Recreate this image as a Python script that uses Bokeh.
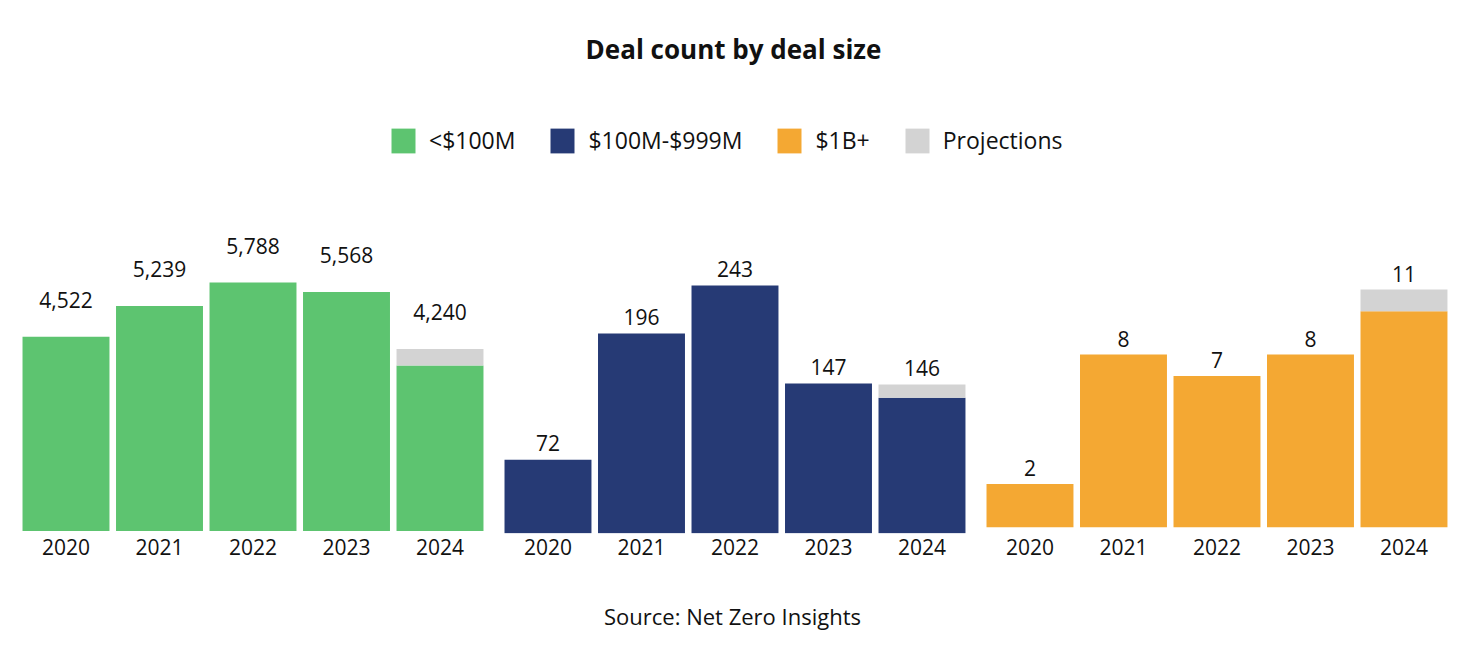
from bokeh.plotting import figure
from bokeh.models import Range1d, LinearAxis, FixedTicker, Legend, LegendItem, Label, ColumnDataSource
from bokeh.core.properties import value
from bokeh.embed import file_html
from bokeh.resources import INLINE

# ---------------- data ----------------
years = ["2020", "2021", "2022", "2023", "2024"]
series_names = ["<$100M", "$100M-$999M", "$1B+"]
projection_name = "Projections"

small_actual = [4522, 5239, 5788, 5568, 3855]
small_total = [4522, 5239, 5788, 5568, 4240]

mid_actual = [72, 196, 243, 147, 133]
mid_total = [72, 196, 243, 147, 146]

large_actual = [2, 8, 7, 8, 10]
large_total = [2, 8, 7, 8, 11]

title_text = "Deal count by deal size"
source_text = "Source: Net Zero Insights"

# ---------------- style ----------------
FONT = "Open Sans"
colors = ["#5DC470", "#263A75", "#F4A833"]
proj_color = "#D3D3D3"
text_color = "#111111"

W, H = 1454, 638
LEFT = 10
FRAME_W = W - LEFT
FRAME_H = 533
px_per_x = 93.5
x_start = -(65.5 - LEFT) / px_per_x
group_gap = 0.155
bar_w = 0.93

# per-panel vertical scale (px per unit) and baseline lift above frame bottom (px)
scales = [0.04293, 1.019, 21.6]
lifts = [2.5, 0.3, 6.3]
label_offsets = [-37, -16.5, -15.7]

def yrange(k, lift):
    start = -lift / k
    return Range1d(start, start + FRAME_H / k)

p = figure(width=W, height=H, output_backend="svg", toolbar_location=None,
           x_range=Range1d(x_start, x_start + FRAME_W / px_per_x),
           y_range=yrange(scales[0], lifts[0]),
           min_border_left=LEFT, min_border_right=0, min_border_top=0,
           min_border_bottom=H - FRAME_H,
           x_axis_type=None, y_axis_type=None)
p.outline_line_color = None
p.background_fill_color = "white"
p.border_fill_color = "white"
p.grid.visible = False

range_names = ["default", "mid", "large"]
p.extra_y_ranges = {"mid": yrange(scales[1], lifts[1]),
                    "large": yrange(scales[2], lifts[2])}

actuals = [small_actual, mid_actual, large_actual]
totals = [small_total, mid_total, large_total]

all_ticks = []
overrides = {}
main_renderers = []
proj_renderers = []
n = len(years)
for k in range(3):
    offset = k * (n + group_gap)
    xs = [round(offset + i, 4) for i in range(n)]
    for x, yr in zip(xs, years):
        all_ticks.append(x)
        overrides[x] = yr
    src = ColumnDataSource(dict(x=xs, actual=actuals[k], total=totals[k],
                                label=[f"{v:,}" for v in totals[k]]))
    r = p.vbar(x="x", width=bar_w, bottom=0, top="actual", source=src,
               fill_color=colors[k], line_color=None, y_range_name=range_names[k])
    rp = p.vbar(x="x", width=bar_w, bottom="actual", top="total", source=src,
                fill_color=proj_color, line_color=None, y_range_name=range_names[k])
    p.text(x="x", y="total", text="label", source=src, text_align="center",
           text_baseline="alphabetic", y_offset=label_offsets[k],
           text_font=value(FONT), text_font_size="21px", text_color=text_color,
           y_range_name=range_names[k])
    main_renderers.append(r)
    proj_renderers.append(rp)

ax = LinearAxis(ticker=FixedTicker(ticks=all_ticks), major_label_overrides=overrides)
ax.axis_line_color = None
ax.major_tick_line_color = None
ax.minor_tick_line_color = None
ax.major_tick_out = 0
ax.major_tick_in = 0
ax.major_label_standoff = 5
ax.major_label_text_font = FONT
ax.major_label_text_font_size = "21px"
ax.major_label_text_color = text_color
ax.axis_label = source_text
ax.axis_label_standoff = 43
ax.axis_label_text_font = FONT
ax.axis_label_text_font_style = "normal"
ax.axis_label_text_font_size = "22px"
ax.axis_label_text_color = text_color
p.add_layout(ax, "below")

items = [LegendItem(label=series_names[k], renderers=[main_renderers[k]]) for k in range(3)]
items.append(LegendItem(label=projection_name, renderers=[proj_renderers[0]]))
legend = Legend(items=items, orientation="horizontal", location=(388 - LEFT, 377),
                glyph_width=30, glyph_height=31, label_standoff=11, spacing=32,
                padding=0, margin=0, border_line_color=None, background_fill_alpha=0,
                label_text_font=FONT, label_text_font_size="23px",
                label_text_color=text_color, label_height=31)
p.add_layout(legend)

p.add_layout(Label(x=733 - LEFT, y=485, x_units="screen", y_units="screen", text=title_text,
                   text_align="center", text_baseline="alphabetic", text_font=FONT,
                   text_font_style="bold", text_font_size="26px", text_color=text_color))

open("out.html", "w").write(file_html(p, INLINE))
